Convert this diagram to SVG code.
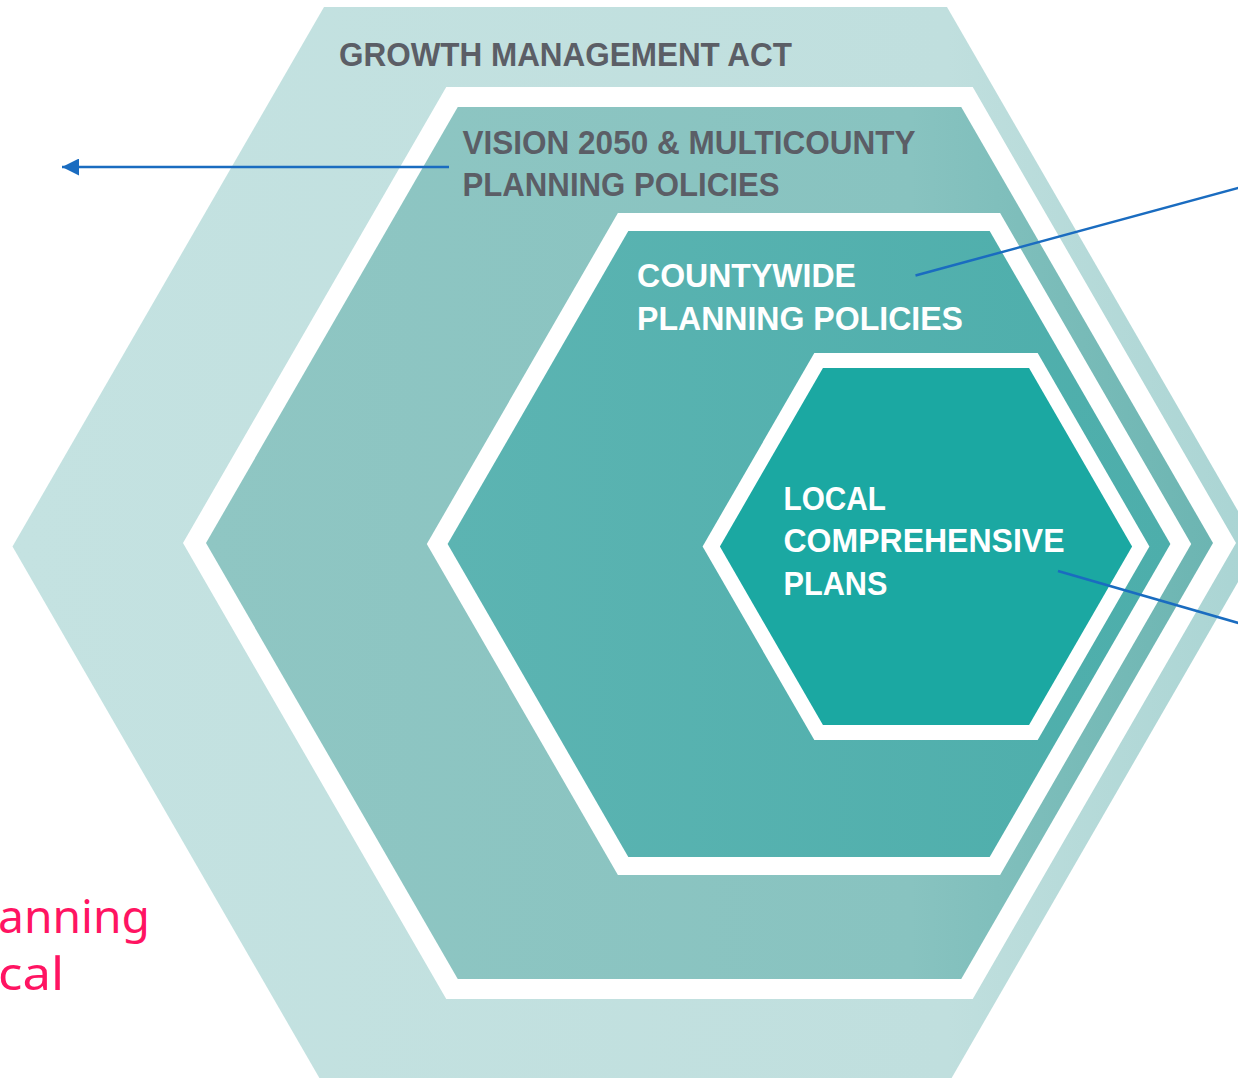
<svg xmlns="http://www.w3.org/2000/svg" width="1238" height="1078" viewBox="0 0 1238 1078">
<style>
.w{fill:#ffffff}
.lbl{font-family:"Liberation Sans",Arial,sans-serif;font-weight:bold;font-size:33px}
.dark{fill:#5b5e66}
.light{fill:#ffffff}
.pink{font-family:"Noto Sans","Open Sans",sans-serif;font-size:46px;fill:#ff1462}
.conn{stroke:#1a6cc0;stroke-width:2.5;fill:none}
</style>
<defs>
<linearGradient id="g1" x1="0" y1="0" x2="1" y2="0">
<stop offset="0" stop-color="#c4e2e1"/>
<stop offset="0.75" stop-color="#c0dfde"/>
<stop offset="1" stop-color="#a9d4d3"/>
</linearGradient>
<linearGradient id="g2" x1="0" y1="0" x2="1" y2="0">
<stop offset="0" stop-color="#8fc6c3"/>
<stop offset="0.7" stop-color="#88c3c0"/>
<stop offset="1" stop-color="#6cb5b2"/>
</linearGradient>
<linearGradient id="g3" x1="0" y1="0" x2="1" y2="0">
<stop offset="0" stop-color="#5cb4b2"/>
<stop offset="1" stop-color="#4daeab"/>
</linearGradient>
<marker id="ah" markerUnits="userSpaceOnUse" markerWidth="17" markerHeight="17" refX="17" refY="8.5" orient="auto">
<path d="M0,0 L17,8.5 L0,17 z" fill="#1a6cc0"/>
</marker>
</defs>
<rect width="1238" height="1078" fill="#ffffff"/>
<g id="growth-management-act">
<polygon points="12.5,546.5 324,7 947,7 1258.5,546.5 947,1086 324,1086" fill="url(#g1)"/>
<text class="lbl dark" x="339" y="66" textLength="453" lengthAdjust="spacingAndGlyphs">GROWTH MANAGEMENT ACT</text>
</g>
<g id="vision-2050">
<polygon class="w" points="183,543 446.25,87 972.75,87 1236,543 972.75,999 446.25,999"/>
<polygon points="206,543 457.75,107 961.25,107 1213,543 961.25,979 457.75,979" fill="url(#g2)"/>
<text class="lbl dark" x="462.5" y="153.5" textLength="453" lengthAdjust="spacingAndGlyphs">VISION 2050 &amp; MULTICOUNTY</text>
<text class="lbl dark" x="462.5" y="196" textLength="317" lengthAdjust="spacingAndGlyphs">PLANNING POLICIES</text>
</g>
<g id="countywide">
<polygon class="w" points="426.8,544 617.9,213 1000.1,213 1191.2,544 1000.1,875 617.9,875"/>
<polygon points="447.6,544 628.3,231 989.7,231 1170.4,544 989.7,857 628.3,857" fill="url(#g3)"/>
<text class="lbl light" x="637" y="286.5" textLength="219" lengthAdjust="spacingAndGlyphs">COUNTYWIDE</text>
<text class="lbl light" x="637" y="330" textLength="326" lengthAdjust="spacingAndGlyphs">PLANNING POLICIES</text>
</g>
<g id="local-plans">
<polygon class="w" points="702.6,546.5 814.3,353 1037.7,353 1149.4,546.5 1037.7,740 814.3,740"/>
<polygon points="719.9,546.5 822.95,368 1029.05,368 1132.1,546.5 1029.05,725 822.95,725" fill="#1ba8a2"/>
<text class="lbl light" x="783.5" y="509.5" textLength="102.5" lengthAdjust="spacingAndGlyphs">LOCAL</text>
<text class="lbl light" x="783.5" y="552" textLength="281" lengthAdjust="spacingAndGlyphs">COMPREHENSIVE</text>
<text class="lbl light" x="783.5" y="594.5" textLength="104" lengthAdjust="spacingAndGlyphs">PLANS</text>
</g>
<g id="side-text">
<text class="pink" x="-2" y="933" textLength="152" lengthAdjust="spacingAndGlyphs">anning</text>
<text class="pink" x="-2" y="990" textLength="66" lengthAdjust="spacingAndGlyphs">cal</text>
</g>
<g id="connectors">
<line class="conn" x1="449" y1="167" x2="62" y2="167" marker-end="url(#ah)"/>
<line class="conn" x1="915.5" y1="275.5" x2="1240" y2="187.5"/>
<line class="conn" x1="1058" y1="571" x2="1240" y2="623.5"/>
</g>
</svg>
